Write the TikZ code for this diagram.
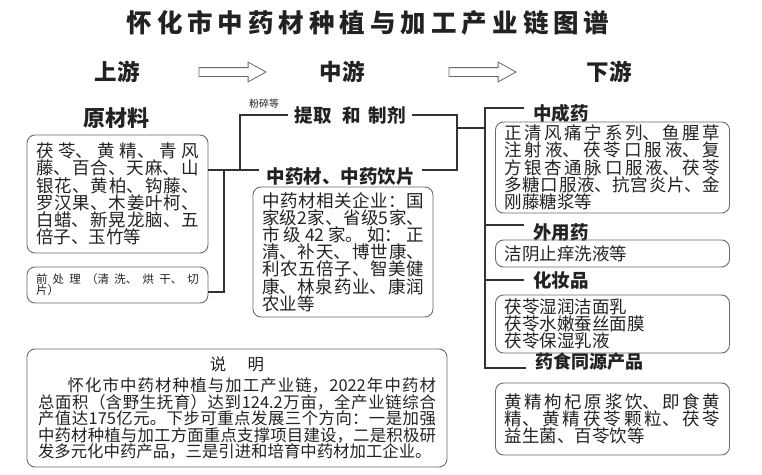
\documentclass[tikz,border=0pt]{standalone}
\usepackage{fontspec}
\setmainfont{Noto Sans CJK SC}
\usetikzlibrary{shapes.arrows,calc}
\XeTeXlinebreaklocale "zh"
\XeTeXlinebreakskip=0pt plus 4pt
\tolerance=10000
\hbadness=10000
\definecolor{inkGray}{HTML}{222222}
\definecolor{lineGray}{HTML}{333333}
\definecolor{boxGray}{HTML}{6A6A6A}
\def\spacedout#1{\ifx#1\relax\unskip\else#1\hskip5pt\expandafter\spacedout\fi}
\tikzset{
  infobox/.style={draw=boxGray, rounded corners=8pt, line width=.9pt, align=justify,
    inner xsep=9pt, inner ysep=3pt, text=inkGray, font=\fontsize{17.5}{17.2}\selectfont},
  stagetext/.style={font=\fontsize{22.5}{24}\selectfont\bfseries, text=inkGray},
  headtext/.style={font=\fontsize{18.5}{20}\selectfont\bfseries, text=inkGray, inner xsep=7pt},
  branchtext/.style={headtext, anchor=west, inner xsep=9pt},
  stagearrow/.style={single arrow, draw=boxGray, fill=white, line width=.8pt,
    minimum height=67pt, single arrow head extend=5.5pt, single arrow tip angle=58,
    inner sep=4pt},
  link/.style={draw=lineGray, line width=1.3pt}
}
\begin{document}
\begin{tikzpicture}[x=1pt, y=-1pt]
  \useasboundingbox (0,0) rectangle (762,474);

  \node[font=\fontsize{25.5}{26}\selectfont\bfseries, text=inkGray] (title) at (368,23) {\spacedout 怀化市中药材种植与加工产业链图谱\relax};

  \node[stagetext] (upstream) at (117,72) {上游};
  \node[stagetext] (midstream) at (342,72) {中游};
  \node[stagetext] (downstream) at (609,72) {下游};
  \node[stagearrow] (arrow1) at (228.5,72) {};
  \node[stagearrow] (arrow2) at (478.5,72) {};

  % upstream
  \node[font=\fontsize{22}{24}\selectfont\bfseries, text=inkGray] (rawhead) at (116,118) {原材料};
  \node[infobox, text width=163pt, minimum height=118pt] (rawbox) at (117.5,194) {茯苓、黄精、青风\linebreak
    藤、百合、天麻、山\linebreak
    银花、黄柏、钩藤、\linebreak
    罗汉果、木姜叶柯、\linebreak
    白蜡、新晃龙脑、五\linebreak
    倍子、玉竹等};
  \node[infobox, font=\fontsize{11.5}{11}\selectfont, text width=163pt, minimum height=36pt] (prebox) at (117.5,285) {前处理（清洗、烘干、切\linebreak
    片）};

  % midstream
  \node[font=\fontsize{10}{10}\selectfont, text=inkGray] (powder) at (264,104) {粉碎等};
  \node[headtext, inner xsep=6pt] (extract) at (350,115) {提取\hspace{0.6em}和\hspace{0.4em}制剂};
  \node[headtext] (herbhead) at (340.5,177) {中药材、中药饮片};
  \node[infobox, text width=162pt, minimum height=130pt] (herbbox) at (343,252) {中药材相关企业：国\linebreak
    家级2家、省级5家、\linebreak
    市级42家。如：正\linebreak
    清、补天、博世康、\linebreak
    利农五倍子、智美健\linebreak
    康、林泉药业、康润\linebreak
    农业等};

  % downstream
  \node[branchtext] (tcmhead) at (524,113) {中成药};
  \node[infobox, text width=216pt, minimum height=91pt] (tcmbox) at (612.5,167.5) {正清风痛宁系列、鱼腥草\linebreak
    注射液、茯苓口服液、复\linebreak
    方银杏通脉口服液、茯苓\linebreak
    多糖口服液、抗宫炎片、金\linebreak
    刚藤糖浆等};
  \node[branchtext] (exthead) at (524,233) {外用药};
  \node[infobox, text width=216pt, minimum height=27pt] (extbox) at (612.5,253.5) {洁阴止痒洗液等};
  \node[branchtext] (cosmhead) at (524,280) {化妆品};
  \node[infobox, text width=216pt, minimum height=58pt] (cosmbox) at (612.5,324) {茯苓湿润洁面乳\\茯苓水嫩蚕丝面膜\\茯苓保湿乳液};
  \node[branchtext, font=\fontsize{18}{20}\selectfont\bfseries] (foodhead) at (526,362) {药食同源产品};
  \node[infobox, text width=216pt, minimum height=72pt] (foodbox) at (612.5,419) {黄精枸杞原浆饮、即食黄\linebreak
    精、黄精茯苓颗粒、茯苓\linebreak
    益生菌、百苓饮等};

  % note
  \node[infobox, font=\fontsize{16.4}{16.5}\selectfont, text width=398pt, inner xsep=11pt, minimum height=118pt] (notebox) at (237,408) {{\centering 说\hspace{1.3em}明\par}\vspace{5pt}\hspace*{1.8em}怀化市中药材种植与加工产业链，2022年中药材\linebreak
    总面积（含野生抚育）达到124.2万亩，全产业链综合\linebreak
    产值达175亿元。下步可重点发展三个方向：一是加强\linebreak
    中药材种植与加工方面重点支撑项目建设，二是积极研\linebreak
    发多元化中药产品，三是引进和培育中药材加工企业。};

  % connectors
  \coordinate (leftjoin) at (240,170);
  \coordinate (prejoin) at (224,170);
  \coordinate (midjoin) at (457,128);
  \coordinate (spine) at (485,128);
  \coordinate (extjoin) at ([yshift=8pt]exthead.west);
  \coordinate (foodjoin) at ([yshift=-6pt]foodhead.west);

  \draw[link] ([yshift=24pt]rawbox.east) -- ([yshift=7pt]herbhead.west);
  \draw[link] ([yshift=-7pt]prebox.east) -| (prejoin);
  \draw[link] (leftjoin) |- (extract.west);
  \draw[link] (extract.east) -| (midjoin);
  \draw[link] ([yshift=7pt]herbhead.east) -| (midjoin);
  \draw[link] (midjoin) -- (spine);
  \draw[link] ([yshift=5pt]tcmhead.west) -| (foodjoin -| spine) -- (foodjoin);
  \draw[link] (extjoin -| spine) -- (extjoin);
  \draw[link] (cosmhead.west -| spine) -- (cosmhead.west);
\end{tikzpicture}
\end{document}
